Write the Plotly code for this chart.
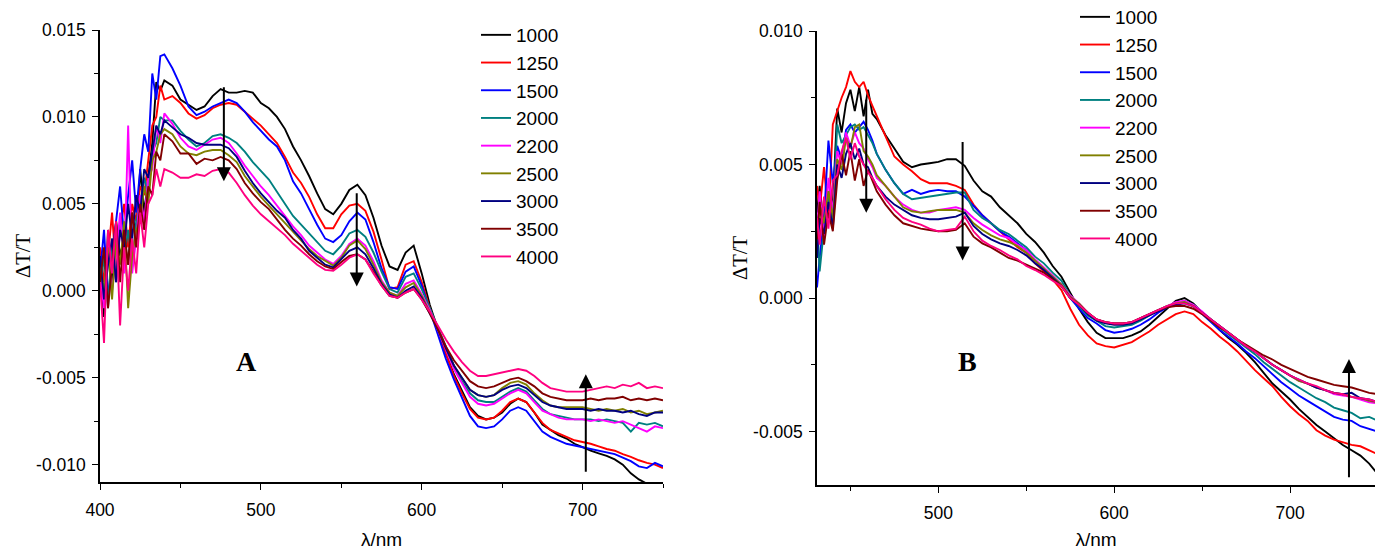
import plotly.graph_objects as go

# ---------------- data (ΔT/T values in units of 1e-3) ----------------
labels = ["1000", "1250", "1500", "2000", "2200", "2500", "3000", "3500", "4000"]
colors = ["#000000", "#FF0000", "#0000FF", "#008080", "#FF00FF",
          "#808000", "#000080", "#800000", "#FF0080"]

# Panel A wavelengths (nm)
wl_A = [400, 402.5, 405, 407.5, 410, 412.5, 415, 417.5, 420, 422.5, 425, 427.5,
        430, 432.5, 435, 437.5, 440,
        445, 450, 455, 460, 465, 470, 475, 480, 485, 490, 495, 500, 505, 510,
        515, 520, 525, 530, 535, 540, 545, 550, 555, 560, 565, 570, 575, 580,
        585, 590, 595, 600, 605, 610, 615, 620, 625, 630, 635, 640, 645, 650,
        655, 660, 665, 670, 675, 680, 685, 690, 695, 700, 705, 710, 715, 720,
        725, 730, 735, 740, 745, 750]

A_1000 = [1.5, -1.5, 3.5, 0.5, 4.0, 2.0, 3.0, 1.5, 4.5, 3.0, 7.0, 4.5, 6.5, 8.5, 12.0, 11.5, 12.1,
          11.8, 11.0, 10.7, 10.4, 10.6, 11.2, 11.6, 11.4, 11.4, 11.5, 11.4, 10.8, 10.5, 10.0, 9.3, 8.3,
          7.5, 6.6, 5.6, 4.7, 4.4, 5.0, 5.8, 6.1, 5.5, 4.2, 2.6, 1.4, 1.2, 2.2, 2.6, 1.0,
          -0.8, -2.2, -3.6, -4.8, -5.8, -6.7, -7.2, -7.4, -7.3, -7.0, -6.5, -6.2, -6.4, -7.0, -7.7,
          -8.0, -8.3, -8.5, -8.8, -9.0, -9.2, -9.35, -9.5, -9.7, -10.0, -10.5, -10.85, -11.1, -11.3, -11.5]
A_1250 = [2.5, 0.5, 2.0, 4.5, 1.0, 3.5, 5.0, 2.5, 5.0, 4.0, 6.0, 5.5, 7.5, 9.5, 10.0, 11.8, 11.0,
          11.2, 10.8, 10.2, 9.9, 10.1, 10.5, 10.7, 10.8, 10.7, 10.3, 9.9, 9.5, 9.0, 8.5, 7.7, 6.8,
          6.2, 5.4, 4.4, 3.6, 3.6, 4.4, 4.9, 5.0, 4.6, 3.4, 1.8, 0.1, 0.2, 1.5, 1.7, 0.5,
          -1.0, -2.3, -3.7, -4.9, -5.9, -6.8, -7.3, -7.4, -7.3, -6.9, -6.4, -6.2, -6.4, -7.0, -7.6,
          -8.0, -8.2, -8.4, -8.6, -8.7, -8.8, -8.95, -9.1, -9.2, -9.4, -9.55, -9.75, -9.9, -10.0, -10.2]
A_1500 = [1.0, 3.5, -0.5, 2.0, 4.0, 6.0, 3.0, 5.5, 7.5, 4.5, 7.0, 9.0, 8.0, 12.5, 11.0, 13.5, 13.6,
          12.8, 11.8, 10.6, 10.1, 10.3, 10.6, 10.8, 11.0, 10.8, 10.3, 9.7, 9.2, 8.7, 8.3, 7.5, 6.3,
          5.6, 4.7, 3.8, 3.0, 2.8, 3.2, 4.0, 4.5, 4.1, 2.8, 1.3, 0.2, 0.1, 1.1, 1.4, 0.3,
          -1.1, -2.5, -3.9, -5.1, -6.2, -7.2, -7.8, -7.9, -7.8, -7.4, -6.9, -6.7, -6.9, -7.5, -8.1,
          -8.4, -8.6, -8.8, -8.9, -9.0, -9.1, -9.2, -9.3, -9.4, -9.6, -9.8, -10.1, -10.2, -9.9, -10.1]
A_2000 = [0.0, 2.0, -1.0, 3.0, 0.5, 4.0, 2.0, 3.5, 1.5, 4.0, 5.0, 6.5, 5.5, 8.0, 8.5, 10.0, 9.8,
          9.8, 9.2, 8.7, 8.3, 8.5, 8.9, 9.0, 8.8, 8.5, 8.0, 7.4, 6.9, 6.4, 5.7, 5.0, 4.3,
          3.8, 3.3, 2.8, 2.3, 2.1, 2.6, 3.3, 3.5, 3.1, 2.2, 1.1, 0.1, -0.1, 0.8, 1.0, 0.1,
          -1.0, -2.1, -3.3, -4.3, -5.2, -5.9, -6.3, -6.4, -6.4, -6.1, -5.8, -5.6, -5.8, -6.3, -6.8,
          -7.1, -7.2, -7.3, -7.4, -7.4, -7.4, -7.5, -7.4, -7.5, -7.6, -8.1, -7.6, -7.7, -7.6, -7.8]
A_2200 = [1.0, -1.0, 3.0, 0.0, 2.0, 4.5, 1.0, 9.5, 1.0, 3.0, 5.5, 4.0, 6.5, 7.0, 9.5, 8.5, 10.2,
          9.6, 8.8, 8.3, 8.1, 8.4, 8.7, 8.8, 8.5, 7.9, 7.2, 6.6, 6.0, 5.5, 4.9, 4.3, 3.7,
          3.2, 2.6, 2.2, 1.8, 1.55, 2.0, 2.7, 3.0, 2.6, 1.7, 0.6, -0.1, -0.3, 0.4, 0.6, -0.2,
          -1.1, -2.2, -3.4, -4.5, -5.3, -6.1, -6.5, -6.6, -6.5, -6.2, -5.9, -5.7, -5.9, -6.4, -6.9,
          -7.1, -7.3, -7.4, -7.4, -7.4, -7.5, -7.4, -7.5, -7.6, -7.5, -7.7, -7.9, -8.1, -7.8, -7.9]
A_2500 = [1.5, 0.0, 2.5, -0.5, 3.0, 1.5, 4.0, -1.0, 2.0, 3.5, 4.0, 6.0, 5.0, 7.5, 8.0, 9.0, 9.3,
          9.0, 8.3, 7.9, 7.8, 8.0, 8.1, 8.1, 7.8, 7.4, 6.6, 6.0, 5.4, 4.9, 4.4, 3.9, 3.4,
          2.9, 2.4, 2.0, 1.7, 1.45, 1.9, 2.6, 2.9, 2.4, 1.5, 0.5, -0.1, -0.3, 0.2, 0.45, -0.3,
          -1.2, -2.2, -3.3, -4.3, -5.0, -5.7, -6.0, -6.1, -6.0, -5.6, -5.3, -5.2, -5.4, -5.9, -6.3,
          -6.6, -6.7, -6.7, -6.7, -6.7, -6.8, -6.9, -6.8, -6.9, -6.8, -7.0, -6.9, -7.1, -7.0, -6.9]
A_3000 = [2.0, -0.5, 1.5, 3.0, 0.5, 3.5, 2.5, 5.0, 3.0, 5.5, 4.5, 7.0, 6.5, 8.0, 9.5, 9.0, 9.8,
          9.4, 9.0, 8.8, 8.5, 8.4, 8.4, 8.4, 8.2, 7.7, 6.9, 6.2, 5.6, 5.1, 4.6, 4.2, 3.5,
          3.0, 2.3, 1.9, 1.5, 1.35, 1.8, 2.3, 2.5, 2.1, 1.3, 0.4, -0.2, -0.4, 0.0, 0.25, -0.4,
          -1.3, -2.2, -3.3, -4.3, -5.0, -5.7, -6.0, -6.1, -6.0, -5.7, -5.5, -5.4, -5.6, -6.0, -6.4,
          -6.6, -6.7, -6.8, -6.8, -6.8, -6.9, -6.8, -6.9, -6.9, -7.0, -6.9, -7.1, -7.2, -7.0, -7.0]
A_3500 = [0.5, 2.5, -1.0, 1.5, 4.0, 0.5, 3.5, 1.5, 4.5, 2.5, 5.0, 3.5, 6.0, 5.5, 8.0, 7.5, 9.0,
          8.6, 7.9, 7.9, 7.3, 7.6, 7.5, 7.7, 7.5, 7.0, 6.2, 5.6, 5.1, 4.7, 4.1, 3.5, 3.0,
          2.6, 2.1, 1.7, 1.4, 1.25, 1.65, 2.0, 2.1, 1.8, 1.1, 0.3, -0.3, -0.4, -0.1, 0.1, -0.5,
          -1.3, -2.2, -3.2, -4.0, -4.6, -5.2, -5.5, -5.6, -5.5, -5.3, -5.1, -5.0, -5.2, -5.5, -5.9,
          -6.1, -6.2, -6.3, -6.3, -6.3, -6.2, -6.3, -6.2, -6.2, -6.1, -6.3, -6.2, -6.3, -6.2, -6.3]
A_4000 = [0.5, -3.0, 3.5, 1.0, 4.0, -2.0, 2.5, 0.0, 3.0, 1.0, 4.5, 2.5, 5.0, 5.5, 7.0, 6.0, 7.0,
          6.8, 6.5, 6.5, 6.7, 6.6, 6.9, 7.0, 6.8, 6.2, 5.5, 4.9, 4.4, 4.0, 3.6, 3.2, 2.7,
          2.3, 1.9, 1.5, 1.2, 1.15, 1.5, 1.9, 2.1, 1.8, 1.0, 0.3, -0.3, -0.4, -0.1, 0.1, -0.5,
          -1.2, -2.0, -2.8, -3.5, -4.1, -4.6, -4.9, -4.9, -4.8, -4.7, -4.6, -4.5, -4.6, -4.9, -5.3,
          -5.6, -5.7, -5.8, -5.8, -5.8, -5.7, -5.6, -5.5, -5.6, -5.4, -5.5, -5.3, -5.6, -5.5, -5.6]

# Panel B wavelengths (nm)
wl_B = [431, 432.5, 435, 437.5, 440, 442.5, 445, 447.5, 450, 452.5, 455, 457.5, 460, 462.5, 465,
        470, 475, 480, 485, 490, 495, 500, 505, 510, 515, 520, 525, 530, 535, 540,
        545, 550, 555, 560, 565, 570, 575, 580, 585, 590, 595, 600, 605, 610, 615,
        620, 625, 630, 635, 640, 645, 650, 655, 660, 665, 670, 675, 680, 685, 690,
        695, 700, 705, 710, 715, 720, 725, 730, 735, 740, 745, 750]

B_1000 = [3.2, 4.2, 2.6, 4.0, 3.5, 7.1, 6.2, 7.3, 7.8, 7.0, 7.9, 6.8, 7.8, 6.9, 6.7,
          6.1, 5.6, 5.1, 4.9, 5.0, 5.05, 5.1, 5.2, 5.2, 4.95, 4.4, 4.0, 3.8, 3.4, 3.1,
          2.8, 2.4, 2.1, 1.7, 1.2, 0.8, 0.2, -0.4, -0.9, -1.3, -1.5, -1.5, -1.5, -1.4, -1.25,
          -1.0, -0.7, -0.4, -0.1, 0.0, -0.2, -0.55, -0.85, -1.2, -1.5, -1.75, -2.05, -2.4, -2.8, -3.2,
          -3.5, -3.8, -4.15, -4.45, -4.75, -5.0, -5.25, -5.5, -5.7, -5.9, -6.2, -6.6]
B_1250 = [4.2, 3.3, 4.9, 3.0, 6.5, 7.0, 7.5, 7.9, 8.5, 8.1, 7.9, 8.1, 7.6, 7.2, 6.8,
          6.05, 5.3, 5.0, 4.75, 4.45, 4.3, 4.3, 4.3, 4.2, 4.05, 3.5, 3.1, 2.8, 2.5, 2.2,
          1.9, 1.7, 1.3, 1.0, 0.7, 0.3, -0.4, -1.0, -1.4, -1.7, -1.8, -1.85, -1.75, -1.65, -1.45,
          -1.25, -1.0, -0.8, -0.6, -0.5, -0.6, -0.9, -1.15, -1.45, -1.7, -2.0, -2.35, -2.7, -3.0, -3.3,
          -3.7, -4.05, -4.35, -4.6, -4.95, -5.15, -5.3, -5.4, -5.5, -5.55, -5.7, -5.85]
B_1500 = [0.4, 1.5, 3.0, 5.9, 4.3, 5.7, 5.2, 6.3, 6.5, 6.2, 6.4, 6.6, 6.3, 5.9, 5.4,
          4.8, 4.3, 3.9, 4.05, 3.9, 4.0, 4.05, 4.0, 4.0, 3.8, 3.45, 3.1, 2.8, 2.5, 2.3,
          2.05, 1.8, 1.4, 1.1, 0.8, 0.5, 0.0, -0.4, -0.75, -0.95, -1.2, -1.3, -1.25, -1.15, -1.0,
          -0.8, -0.55, -0.35, -0.2, -0.15, -0.3, -0.6, -0.9, -1.2, -1.45, -1.7, -2.0, -2.25, -2.55, -2.85,
          -3.15, -3.4, -3.65, -3.85, -4.05, -4.25, -4.45, -4.55, -4.6, -4.8, -4.9, -5.0]
B_2000 = [3.0, 1.0, 2.6, 3.8, 2.8, 6.5, 5.8, 6.1, 6.4, 6.5, 6.3, 6.4, 6.1, 5.8, 5.4,
          4.8, 4.3, 3.9, 3.7, 3.75, 3.8, 3.85, 3.9, 3.95, 3.95, 3.3, 3.0, 2.8, 2.55, 2.4,
          2.15, 1.9, 1.55, 1.3, 0.95, 0.65, 0.1, -0.3, -0.65, -0.85, -1.05, -1.1, -1.05, -1.0, -0.85,
          -0.65, -0.45, -0.3, -0.2, -0.1, -0.25, -0.55, -0.85, -1.1, -1.35, -1.6, -1.85, -2.1, -2.4, -2.65,
          -2.9, -3.15, -3.35, -3.55, -3.75, -3.9, -4.1, -4.2, -4.3, -4.5, -4.45, -4.6]
B_2200 = [2.5, 4.0, 2.2, 4.5, 3.2, 5.5, 5.0, 6.2, 5.7, 6.2, 5.8, 5.6, 5.2, 4.9, 4.5,
          4.2, 3.8, 3.5, 3.3, 3.2, 3.2, 3.3, 3.35, 3.4, 3.3, 3.0, 2.75, 2.55, 2.35, 2.25,
          2.0, 1.8, 1.45, 1.15, 0.85, 0.5, 0.1, -0.2, -0.55, -0.8, -0.9, -0.95, -0.95, -0.9, -0.75,
          -0.6, -0.45, -0.3, -0.15, -0.1, -0.25, -0.5, -0.8, -1.05, -1.3, -1.55, -1.8, -2.0, -2.25, -2.5,
          -2.7, -2.9, -3.1, -3.2, -3.35, -3.45, -3.6, -3.65, -3.7, -3.8, -3.9, -3.95]
B_2500 = [2.0, 3.5, 2.8, 4.0, 3.0, 5.2, 4.8, 6.0, 5.6, 6.4, 6.5, 5.5, 5.3, 5.0, 4.6,
          4.2, 3.8, 3.4, 3.25, 3.2, 3.25, 3.3, 3.3, 3.3, 3.2, 2.8, 2.55, 2.35, 2.2, 2.1,
          1.95, 1.7, 1.4, 1.1, 0.8, 0.5, 0.05, -0.2, -0.55, -0.8, -0.9, -0.95, -0.95, -0.9, -0.75,
          -0.6, -0.45, -0.3, -0.2, -0.15, -0.3, -0.55, -0.8, -1.05, -1.3, -1.55, -1.8, -2.0, -2.25, -2.5,
          -2.7, -2.9, -3.1, -3.2, -3.35, -3.45, -3.55, -3.6, -3.7, -3.75, -3.85, -3.9]
B_3000 = [1.5, 3.0, 2.4, 3.6, 2.6, 5.0, 4.5, 5.4, 5.8, 5.2, 5.6, 5.0, 4.9, 4.5, 4.2,
          3.8, 3.5, 3.3, 3.1, 3.0, 2.95, 2.95, 3.0, 3.05, 3.2, 2.7, 2.4, 2.2, 2.05, 1.95,
          1.8, 1.6, 1.3, 1.05, 0.75, 0.45, 0.0, -0.25, -0.6, -0.85, -0.95, -1.0, -1.0, -0.95, -0.8,
          -0.65, -0.5, -0.35, -0.25, -0.2, -0.3, -0.55, -0.8, -1.05, -1.3, -1.55, -1.8, -2.0, -2.25, -2.5,
          -2.7, -2.9, -3.05, -3.2, -3.35, -3.45, -3.55, -3.6, -3.55, -3.75, -3.8, -3.9]
B_3500 = [2.2, 3.6, 2.0, 3.2, 2.5, 4.4, 5.4, 4.6, 5.5, 4.4, 5.2, 4.2, 4.8, 4.4, 4.0,
          3.5, 3.1, 2.8, 2.7, 2.6, 2.55, 2.5, 2.5, 2.55, 2.8, 2.3, 2.05, 1.9, 1.7, 1.5,
          1.4, 1.25, 1.1, 0.95, 0.7, 0.45, 0.0, -0.25, -0.55, -0.8, -0.9, -0.95, -0.95, -0.9, -0.75,
          -0.6, -0.45, -0.35, -0.3, -0.3, -0.4, -0.6, -0.85, -1.1, -1.3, -1.55, -1.75, -1.95, -2.15, -2.3,
          -2.5, -2.65, -2.8, -2.95, -3.05, -3.15, -3.25, -3.3, -3.35, -3.45, -3.55, -3.6]
B_4000 = [3.0, 2.0, 3.8, 2.6, 4.4, 4.6, 5.5, 6.0, 5.2, 5.8, 5.3, 5.0, 4.7, 4.5, 4.2,
          3.7, 3.3, 3.0, 2.85, 2.75, 2.6, 2.5, 2.55, 2.6, 3.05, 2.5, 2.15, 1.95, 1.8, 1.6,
          1.45, 1.2, 1.05, 0.87, 0.65, 0.45, 0.0, -0.25, -0.55, -0.8, -0.9, -0.95, -0.95, -0.9, -0.75,
          -0.6, -0.45, -0.3, -0.2, -0.2, -0.3, -0.55, -0.8, -1.05, -1.3, -1.55, -1.8, -2.0, -2.25, -2.5,
          -2.7, -2.9, -3.05, -3.2, -3.3, -3.45, -3.55, -3.6, -3.7, -3.75, -3.8, -3.9]

series_A = [A_1000, A_1250, A_1500, A_2000, A_2200, A_2500, A_3000, A_3500, A_4000]
series_B = [B_1000, B_1250, B_1500, B_2000, B_2200, B_2500, B_3000, B_3500, B_4000]

yticks_A = [-0.010, -0.005, 0.0, 0.005, 0.010, 0.015]
yticktext_A = ["-0.010", "-0.005", "0.000", "0.005", "0.010", "0.015"]
yticks_B = [-0.005, 0.0, 0.005, 0.010]
yticktext_B = ["-0.005", "0.000", "0.005", "0.010"]
xticks_A = [400, 500, 600, 700]
xticks_B = [500, 600, 700]

for s in series_A:
    assert len(s) == len(wl_A), len(s)
for s in series_B:
    assert len(s) == len(wl_B), len(s)

SCALE = 1e-3  # stored values are ΔT/T × 10^3

# ---------------- figure ----------------
W, H = 1375, 550
fig = go.Figure()

for lab, col, s in zip(labels, colors, series_A):
    fig.add_trace(go.Scatter(x=wl_A, y=[v * SCALE for v in s], mode="lines", name=lab,
                             line=dict(color=col, width=1.9), xaxis="x", yaxis="y",
                             legend="legend"))
for lab, col, s in zip(labels, colors, series_B):
    fig.add_trace(go.Scatter(x=wl_B, y=[v * SCALE for v in s], mode="lines", name=lab,
                             line=dict(color=col, width=1.9), xaxis="x2", yaxis="y2",
                             legend="legend2"))

sans = "Arial, Liberation Sans, sans-serif"
serif = "Times New Roman, Liberation Serif, serif"

def xax(domain, rng, tickvals, anchor):
    return dict(domain=domain, range=rng, tickmode="array", tickvals=tickvals, anchor=anchor,
                showline=True, linecolor="black", linewidth=1.6, mirror=False,
                ticks="outside", ticklen=6, tickwidth=1.4, tickcolor="black",
                minor=dict(ticks="outside", ticklen=4, tickwidth=1.4, tickcolor="black",
                           tickmode="linear", tick0=400, dtick=50),
                showgrid=False, zeroline=False, ticklabelstandoff=5, automargin=False,
                tickfont=dict(family=sans, size=17.5, color="black"),
                title=dict(text="λ/nm", font=dict(family=sans, size=19, color="black"),
                           standoff=14))

def yax(domain, rng, tickvals, ticktext, anchor):
    return dict(domain=domain, range=rng, tickmode="array", tickvals=tickvals, ticktext=ticktext,
                showline=True, linecolor="black", linewidth=1.6, anchor=anchor,
                ticks="outside", ticklen=6, tickwidth=1.4, tickcolor="black",
                minor=dict(ticks="outside", ticklen=4, tickwidth=1.4, tickcolor="black",
                           tickmode="linear", tick0=0, dtick=0.0025),
                showgrid=False, zeroline=False, ticklabelstandoff=3, automargin=False,
                tickfont=dict(family=sans, size=17.5, color="black"),
                title=dict(text="ΔT/T", font=dict(family=serif, size=20.5, color="black"),
                           standoff=0))

fig.update_layout(
    width=W, height=H, margin=dict(l=0, r=0, t=0, b=0, autoexpand=False),
    paper_bgcolor="white", plot_bgcolor="white",
    xaxis=xax([100 / W, 663 / W], [400, 750], xticks_A, "y"),
    yaxis=yax([1 - 482 / H, 1 - 30 / H], [-0.0110, 0.0150], yticks_A, yticktext_A, "x"),
    xaxis2=xax([817 / W, 1.0], [431, 748.3], xticks_B, "y2"),
    yaxis2=yax([1 - 485 / H, 1 - 31 / H], [-0.0070, 0.0100], yticks_B, yticktext_B, "x2"),
    legend=dict(x=476 / W, y=1 - 16 / H, xanchor="left", yanchor="top",
                bgcolor="rgba(0,0,0,0)", borderwidth=0, tracegroupgap=0,
                font=dict(family=sans, size=19, color="black")),
    legend2=dict(x=1075 / W, y=1 + 2 / H, xanchor="left", yanchor="top",
                 bgcolor="rgba(0,0,0,0)", borderwidth=0, tracegroupgap=0,
                 font=dict(family=sans, size=19, color="black")),
)

# panel letters
fig.add_annotation(x=491.3, y=-0.00407, xref="x", yref="y", text="<b>A</b>", showarrow=False,
                   font=dict(family=serif, size=28, color="black"))
fig.add_annotation(x=516.5, y=-0.00239, xref="x2", yref="y2", text="<b>B</b>", showarrow=False,
                   font=dict(family=serif, size=28, color="black"))

# trend arrows (tip at x,y; tail at ax,ay)
arrows = [
    ("x", "y", 477.0, 0.0063, 0.0118),
    ("x", "y", 559.6, 0.00024, 0.0057),
    ("x", "y", 702.0, -0.0048, -0.0105),
    ("x2", "y2", 459.0, 0.00319, 0.00748),
    ("x2", "y2", 513.8, 0.00141, 0.0059),
    ("x2", "y2", 733.5, -0.00228, -0.00677),
]
for xr, yr, xv, tip, tail in arrows:
    fig.add_annotation(x=xv, y=tip, ax=xv, ay=tail, xref=xr, yref=yr, axref=xr, ayref=yr,
                       text="", showarrow=True, arrowhead=2, arrowsize=1.4, arrowwidth=2,
                       arrowcolor="black")

fig.write_html("out.html")
